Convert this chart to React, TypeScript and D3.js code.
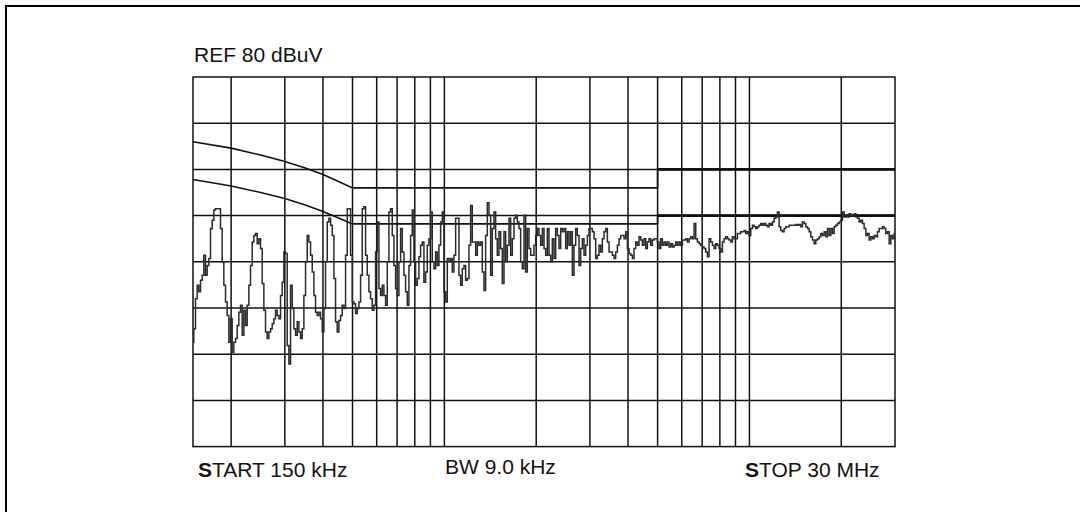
import React from "react";
import * as d3 from "d3";

// ---- data ----
const FREQ_START_MHZ = 0.15;
const FREQ_STOP_MHZ = 30;
const REF_LEVEL_DBUV = 80;
const DB_PER_DIV = 10;
const DIVISIONS = 8;

const GRID_FREQS_MHZ = [0.2, 0.3, 0.4, 0.5, 0.6, 0.7, 0.8, 0.9, 1, 2, 3, 4, 5, 6, 7, 8, 9, 10, 20];

// quasi-peak style limit (upper) and average style limit (lower), [MHz, dBuV]
const LIMIT_UPPER: [number, number][] = [
  [0.15, 66], [0.2, 64.6], [0.25, 63.1], [0.3, 61.7], [0.35, 60.3], [0.4, 58.9], [0.45, 57.4], [0.5, 56],
  [5, 56], [5, 60], [30, 60],
];
const LIMIT_LOWER: [number, number][] = [
  [0.15, 57.8], [0.2, 56.4], [0.25, 55.0], [0.3, 53.7], [0.35, 52.3], [0.4, 50.9], [0.45, 49.5], [0.5, 48.2],
  [5, 48.2], [5, 50], [30, 50],
];

// measured trace (dBuV), sweep points log-spaced from START to STOP
const TRACE_DBUV = [
  22.6, 25.5, 32.0, 34.9, 33.5, 36.0, 37.1, 41.4, 37.1, 39.2, 40.7, 47.2, 49.0, 51.2, 51.5, 51.5, 51.5, 47.2, 40.0, 34.9,
  31.3, 28.4, 22.6, 27.7, 20.4, 22.6, 23.4, 26.2, 29.1, 30.6, 24.1, 29.5, 26.2, 30.6, 34.9, 39.2, 44.3, 45.7, 46.1, 43.9,
  45.0, 42.9, 35.3, 29.5, 24.8, 23.4, 24.8, 25.5, 26.6, 27.7, 29.5, 28.4, 27.7, 32.7, 35.6, 42.1, 41.8, 21.9, 17.9, 34.9,
  29.9, 25.5, 24.1, 27.0, 24.8, 23.4, 25.5, 32.7, 40.0, 45.7, 44.3, 41.4, 37.8, 32.7, 29.1, 28.4, 29.1, 27.7, 24.8, 29.9,
  40.0, 48.6, 49.4, 47.9, 45.7,
  36.4, 27.0, 24.8, 27.3, 28.4, 30.6, 29.9, 41.4, 51.5, 51.5, 41.4, 31.3, 30.9, 28.8, 29.9, 31.3, 37.1, 51.5, 51.9, 41.4,
  37.1, 33.5, 32.0, 29.5, 30.6, 42.1, 48.6, 34.2, 32.7, 34.9, 32.7, 30.6, 40.0, 50.8, 51.5, 45.7, 39.2, 34.2, 32.7, 40.0,
  47.2, 42.1, 37.1, 33.5, 30.6, 39.2, 45.7, 51.2, 40.0, 34.9, 36.4, 41.1, 43.6, 44.3, 35.6, 37.8, 43.6, 45.0, 50.8, 40.0,
  38.5, 42.1, 39.2, 43.6, 48.6, 50.8, 33.5, 31.3, 40.7, 40.0, 40.7, 37.8, 41.4, 49.4, 49.4, 37.1, 34.9, 38.5, 39.2, 36.0,
  36.4, 43.6, 52.2, 44.3, 44.3, 41.4, 44.3,
  43.6, 44.3, 37.8, 33.8, 45.7, 52.8, 50.1, 37.1, 47.2, 50.8, 45.0, 41.4, 46.5, 42.9, 35.3, 46.5, 40.0, 43.6, 49.4, 41.4,
  45.0, 49.4, 50.1, 48.6, 47.2, 40.0, 38.5, 50.1, 37.8, 47.2, 42.9, 41.4, 41.4, 43.6, 45.7, 47.2, 45.7, 43.6, 47.2, 42.9,
  41.4, 47.2, 41.4, 40.0, 45.0, 40.7, 47.2, 45.7, 42.9, 47.2, 46.5, 47.2, 42.9, 46.5, 43.6, 46.5, 37.1, 43.6, 47.2, 45.7,
  39.2, 42.9, 45.0, 41.4, 43.6, 45.7, 47.2, 47.2, 46.5, 45.0, 40.7, 41.4, 43.6, 42.1, 45.0, 46.5, 47.2, 44.3, 42.1, 42.1,
  41.4, 40.7, 42.1, 43.6, 45.0, 45.7, 45.7,
  45.0, 46.5, 42.9, 41.8, 41.4, 40.7, 42.9, 44.3, 43.6, 45.4, 44.7, 43.6, 45.0, 42.9, 44.3, 45.0, 43.6, 44.7, 45.0, 45.0,
  44.3, 42.9, 45.0, 43.6, 44.3, 43.6, 44.3, 43.2, 43.9, 43.2, 43.6, 44.3, 43.6, 44.3, 43.6, 44.7, 44.7, 45.0, 44.3, 45.0,
  45.4, 45.0, 48.3, 45.0, 44.3, 43.9, 43.6, 43.2, 42.9, 42.1, 41.1, 45.0, 44.3, 43.6, 42.9, 43.9, 43.6, 42.9, 42.1, 44.3,
  45.0, 45.4, 45.0, 44.7, 44.3, 45.4, 45.0, 45.0, 46.1, 46.1, 46.5, 46.5, 46.8, 46.1, 46.5, 45.7, 47.2, 47.9, 47.6, 47.2,
  47.6, 47.9, 48.3, 47.9,
  48.3, 47.9, 47.6, 48.3, 47.9, 48.6, 49.4, 49.7, 50.8, 47.6, 46.8, 46.5, 47.2, 47.6, 47.6, 47.9, 47.9, 47.9, 47.9, 48.1,
  47.9, 48.1, 47.6, 48.6, 48.3, 47.6, 47.2, 46.5, 45.4, 44.7, 43.9, 44.7, 45.0, 45.4, 46.1, 45.7, 46.5, 45.4, 47.2, 45.7,
  47.2, 46.1, 47.6, 47.9, 48.3, 48.6, 49.0, 50.8, 49.7, 50.1, 49.7, 50.4, 50.2, 50.1, 50.4, 49.7, 49.4, 48.6, 49.0, 48.3,
  47.2, 45.7, 46.1, 44.7, 45.4, 45.0, 45.7, 45.4, 46.5, 47.2, 47.2, 47.6, 47.2, 46.1, 46.5, 43.9, 45.7, 45.0, 46.1,
];

const REF_LABEL = "REF 80 dBuV";
const START_LABEL = ["S", "TART 150 kHz"];
const BW_LABEL = "BW 9.0 kHz";
const STOP_LABEL = ["S", "TOP 30 MHz"];

// ---- layout ----
const W = 1080;
const H = 512;
const PLOT = { left: 193, right: 895, top: 77, bottom: 446.6 };
const FONT = "'Liberation Sans', Arial, sans-serif";
const INK = "#111";

export default function App() {
  const x = d3.scaleLog().domain([FREQ_START_MHZ, FREQ_STOP_MHZ]).range([PLOT.left, PLOT.right]);
  const yMin = REF_LEVEL_DBUV - DB_PER_DIV * DIVISIONS;
  const y = d3.scaleLinear().domain([yMin, REF_LEVEL_DBUV]).range([PLOT.bottom, PLOT.top]);
  const levelTicks = d3.range(yMin + DB_PER_DIV, REF_LEVEL_DBUV, DB_PER_DIV);

  const n = TRACE_DBUV.length;
  const sweep = TRACE_DBUV.map((v, i) => ({
    f: FREQ_START_MHZ * Math.pow(FREQ_STOP_MHZ / FREQ_START_MHZ, i / (n - 1)),
    v,
  }));
  const traceLine = d3
    .line<{ f: number; v: number }>()
    .x((d) => x(d.f))
    .y((d) => y(d.v))
    .curve(d3.curveStep);
  const limitLine = d3
    .line<[number, number]>()
    .x((d) => x(d[0]))
    .y((d) => y(d[1]));

  // the high band part of each limit (last two points) is drawn heavier
  const hiBand = (pts: [number, number][]) => pts.slice(pts.length - 2);

  return (
    <svg
      width={W}
      height={H}
      viewBox={`0 0 ${W} ${H}`}
      style={{ position: "absolute", left: 0, top: 0, background: "#fff" }}
    >
      <rect x={0} y={0} width={W} height={H} fill="#fff" />
      {/* outer box */}
      <path d={`M6,${H} V6 H${W}`} fill="none" stroke="#000" strokeWidth={2} />

      {/* grid */}
      <g stroke={INK} strokeWidth={1.5}>
        {GRID_FREQS_MHZ.map((f) => (
          <line key={`v${f}`} x1={x(f)} x2={x(f)} y1={PLOT.top} y2={PLOT.bottom} />
        ))}
        {levelTicks.map((t) => (
          <line key={`h${t}`} x1={PLOT.left} x2={PLOT.right} y1={y(t)} y2={y(t)} />
        ))}
        <rect
          x={PLOT.left}
          y={PLOT.top}
          width={PLOT.right - PLOT.left}
          height={PLOT.bottom - PLOT.top}
          fill="none"
        />
      </g>

      {/* limit lines */}
      <g fill="none" stroke={INK}>
        <path d={limitLine(LIMIT_UPPER) || ""} strokeWidth={1.6} />
        <path d={limitLine(LIMIT_LOWER) || ""} strokeWidth={1.6} />
        <path d={limitLine(hiBand(LIMIT_UPPER)) || ""} strokeWidth={2.6} />
        <path d={limitLine(hiBand(LIMIT_LOWER)) || ""} strokeWidth={2.6} />
      </g>

      {/* trace */}
      <path d={traceLine(sweep) || ""} fill="none" stroke="#2b2b2b" strokeWidth={1.5} strokeLinejoin="miter" />

      {/* labels */}
      <g fontFamily={FONT} fontSize={21} fill="#111">
        <text x={194} y={62}>{REF_LABEL}</text>
        <text x={198} y={477}>
          <tspan fontWeight="bold">{START_LABEL[0]}</tspan>
          {START_LABEL[1]}
        </text>
        <text x={445} y={474}>{BW_LABEL}</text>
        <text x={745} y={477}>
          <tspan fontWeight="bold">{STOP_LABEL[0]}</tspan>
          {STOP_LABEL[1]}
        </text>
      </g>
    </svg>
  );
}
